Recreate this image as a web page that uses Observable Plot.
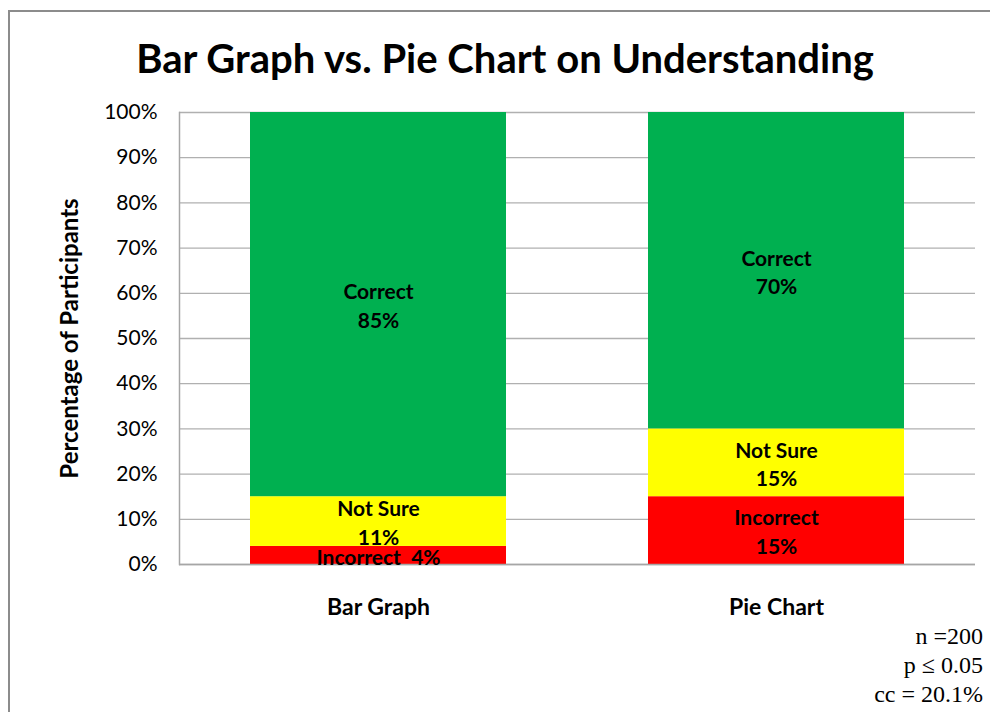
<!DOCTYPE html>
<html>
<head>
<meta charset="utf-8">
<script src="https://cdn.jsdelivr.net/npm/d3@7"></script>
<script src="https://cdn.jsdelivr.net/npm/@observablehq/plot@0.6"></script>
<style>
  html, body { margin: 0; padding: 0; background: #fff; }
  #wrap { position: relative; width: 990px; height: 712px; overflow: hidden; background: #fff; }
  #border { position: absolute; left: 8px; top: 10px; width: 1000px; height: 720px; border: 2px solid #8c8c8c; box-sizing: border-box; }
  #title { position: absolute; left: 20px; right: 0; top: 33px; text-align: center; font-family: Lato, "Open Sans", sans-serif; font-weight: bold; font-size: 40px; color: #000; line-height: 50px; }
  #chart { position: absolute; left: 0; top: 90px; }
  #notes { position: absolute; right: 7px; top: 622px; text-align: right; font-family: "Liberation Serif", "DejaVu Serif", serif; font-size: 24px; line-height: 29px; color: #000; }
</style>
</head>
<body>
<div id="wrap">
  <div id="border"></div>
  <div id="title"></div>
  <div id="chart"></div>
  <div id="notes"></div>
</div>
<script>
const titleText = "Bar Graph vs. Pie Chart on Understanding";
const yLabel = "Percentage of Participants";
const categories = ["Bar Graph", "Pie Chart"];
const outcomes = ["Incorrect", "Not Sure", "Correct"];
const incorrect = [4, 15];
const notSure = [11, 15];
const correct = [85, 70];
const yTicks = [0, 10, 20, 30, 40, 50, 60, 70, 80, 90, 100];
const notes = ["n =200", "p \u2264 0.05", "cc = 20.1%"];
const colors = ["#FF0000", "#FFFF00", "#00B050"];

const series = [incorrect, notSure, correct];
const data = [];
categories.forEach((c, i) => {
  outcomes.forEach((o, j) => {
    const v = series[j][i];
    data.push({
      category: c,
      outcome: o,
      value: v,
      label: v < 5 ? `${o}  ${v}%` : `${o}\n${v}%`
    });
  });
});

document.getElementById("title").textContent = titleText;
document.getElementById("notes").innerHTML = notes.map(n => `<div>${n}</div>`).join("");

const chart = Plot.plot({
  width: 990,
  height: 540,
  marginLeft: 179,
  marginRight: 15,
  marginTop: 22,
  marginBottom: 66,
  style: { fontFamily: "Lato, 'Open Sans', sans-serif", color: "#000", background: "transparent" },
  x: { domain: categories, paddingInner: 0.357, paddingOuter: 0.1785, label: null },
  y: { domain: [0, 100], label: null },
  color: { domain: outcomes, range: colors },
  marks: [
    Plot.gridY(yTicks, { stroke: "#b0b0b0", strokeOpacity: 1, strokeWidth: 1.3 }),
    Plot.barY(data, { x: "category", y: "value", fill: "outcome", order: null }),
    Plot.ruleY([0], { stroke: "#a6a6a6", strokeWidth: 1.5 }),
    Plot.frame({ anchor: "left", stroke: "#a6a6a6", strokeWidth: 1.5 }),
    Plot.text(data, Plot.stackY({
      x: "category", y: "value", z: "outcome", order: null,
      text: "label", fontSize: 21, fontWeight: "bold", fill: "#000", lineHeight: 1.36
    })),
    Plot.axisY({ ticks: yTicks, tickFormat: d => d + "%", tickSize: 0, tickPadding: 22, fontSize: 21, label: null }),
    Plot.axisX({ tickSize: 0, tickPadding: 34, fontSize: 23, fontWeight: "bold", label: null }),
    Plot.text([yLabel], { frameAnchor: "left", dx: -109, rotate: -90, textAnchor: "middle", fontSize: 24, fontWeight: "bold", fill: "#000" })
  ]
});
document.getElementById("chart").appendChild(chart);
</script>
</body>
</html>
